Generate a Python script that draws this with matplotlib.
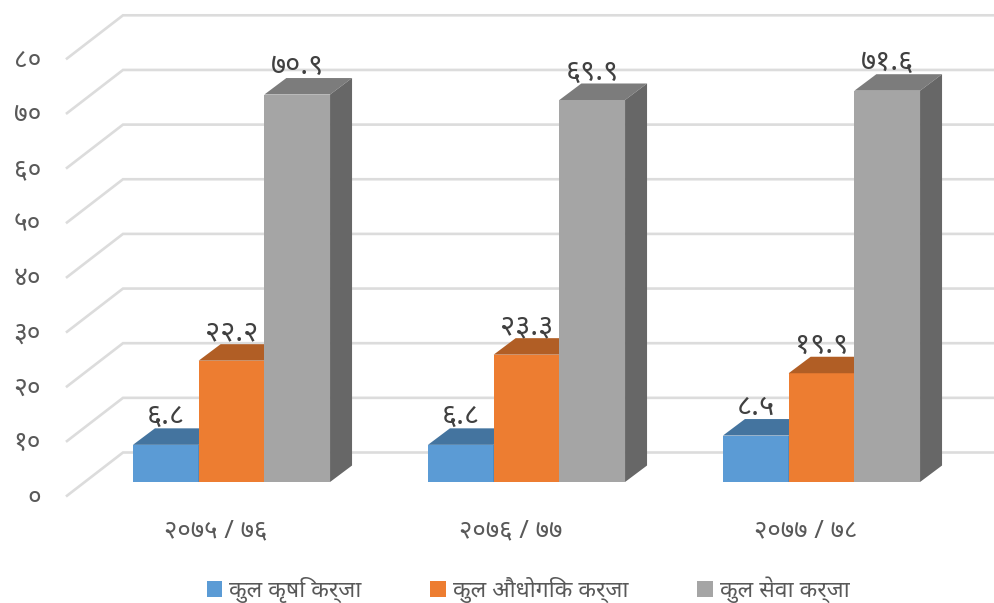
import matplotlib
matplotlib.use("Agg")
import matplotlib.pyplot as plt
from matplotlib.patches import Patch

plt.rcParams['font.family'] = ['Noto Sans', 'DejaVu Sans']

categories = ["२०७५ / ७६", "२०७६ / ७७", "२०७७ / ७८"]
series_names = ["कुल कृषि कर्जा", "कुल औधोगिक कर्जा", "कुल सेवा कर्जा"]
agri = [6.8, 6.8, 8.5]
industry = [22.2, 23.3, 19.9]
service = [70.9, 69.9, 71.6]
y_ticks = [0, 10, 20, 30, 40, 50, 60, 70, 80]

DEV = str.maketrans("0123456789", "०१२३४५६७८९")
W, H = 995, 603
PX_X = 295.0          # pixels per category
PX_Y = 5.465          # pixels per value unit
X0, Y0 = 231.5, 482.0  # pixel of category 0 / value 0

fig = plt.figure(figsize=(W / 100, H / 100), dpi=100)
ax = fig.add_axes([0, 0, 1, 1])
ax.set_xlim(-X0 / PX_X, (W - X0) / PX_X)
ax.set_ylim(-(H - Y0) / PX_Y, Y0 / PX_Y)
ax.axis("off")

# wall geometry (data units)
wall_front_x = (67 - X0) / PX_X
wall_back_x = (123 - X0) / PX_X
wall_front_dy = -13.7 / PX_Y
wall_back_dy = 29.5 / PX_Y
right_x = ax.get_xlim()[1]
grid_c = "#dcdcdc"
for v in y_ticks:
    ax.plot([wall_front_x, wall_back_x, right_x],
            [v + wall_front_dy, v + wall_back_dy, v + wall_back_dy],
            color=grid_c, lw=1.9, solid_joinstyle="miter", zorder=1)
    ax.text((41 - X0) / PX_X, v + wall_front_dy - 2 / PX_Y, str(v).translate(DEV),
            ha="right", va="center", fontsize=19, color="#595959", zorder=5)

# bars
bw = 65.7 / PX_X
ddx, ddy = 22.0 / PX_X, 16.5 / PX_Y
styles = [("#5b9bd5", "#44749f", "#3d6a93"),
          ("#ed7d31", "#b15e25", "#a05521"),
          ("#a5a5a5", "#7c7c7c", "#676767")]
all_vals = [agri, industry, service]
for s, (vals, (front, top, side)) in enumerate(zip(all_vals, styles)):
    for c, v in enumerate(vals):
        xc = c + (s - 1) * bw
        l, r = xc - bw / 2, xc + bw / 2
        ax.bar(xc, v, width=bw, color=front, edgecolor="none", zorder=3 + s * 0.1)
        ax.fill([l, r, r + ddx, l + ddx], [v, v, v + ddy, v + ddy],
                color=top, lw=0, zorder=3 + s * 0.1)
        ax.fill([r, r + ddx, r + ddx, r], [0, ddy, v + ddy, v],
                color=side, lw=0, zorder=3 + s * 0.1)
        ax.text(xc, v + 28 / PX_Y, f"{v:.1f}".translate(DEV), ha="center", va="center",
                fontsize=21, color="#404040", zorder=6)

# category labels
for c, lab in enumerate(categories):
    ax.text(c - 15.5 / PX_X, -49 / PX_Y, lab, ha="center", va="center",
            fontsize=18.6, color="#595959", zorder=5)

handles = [Patch(facecolor=st[0], edgecolor="none") for st in styles]
leg = fig.legend(handles, series_names, ncol=3, loc="center",
                 bbox_to_anchor=(528 / W, 1 - 590 / H), frameon=False,
                 fontsize=16.5, labelcolor="#595959", handlelength=0.68, handleheight=0.68,
                 handletextpad=0.3, columnspacing=3.0, borderpad=0, borderaxespad=0)

fig.savefig("out.png", dpi=100)
